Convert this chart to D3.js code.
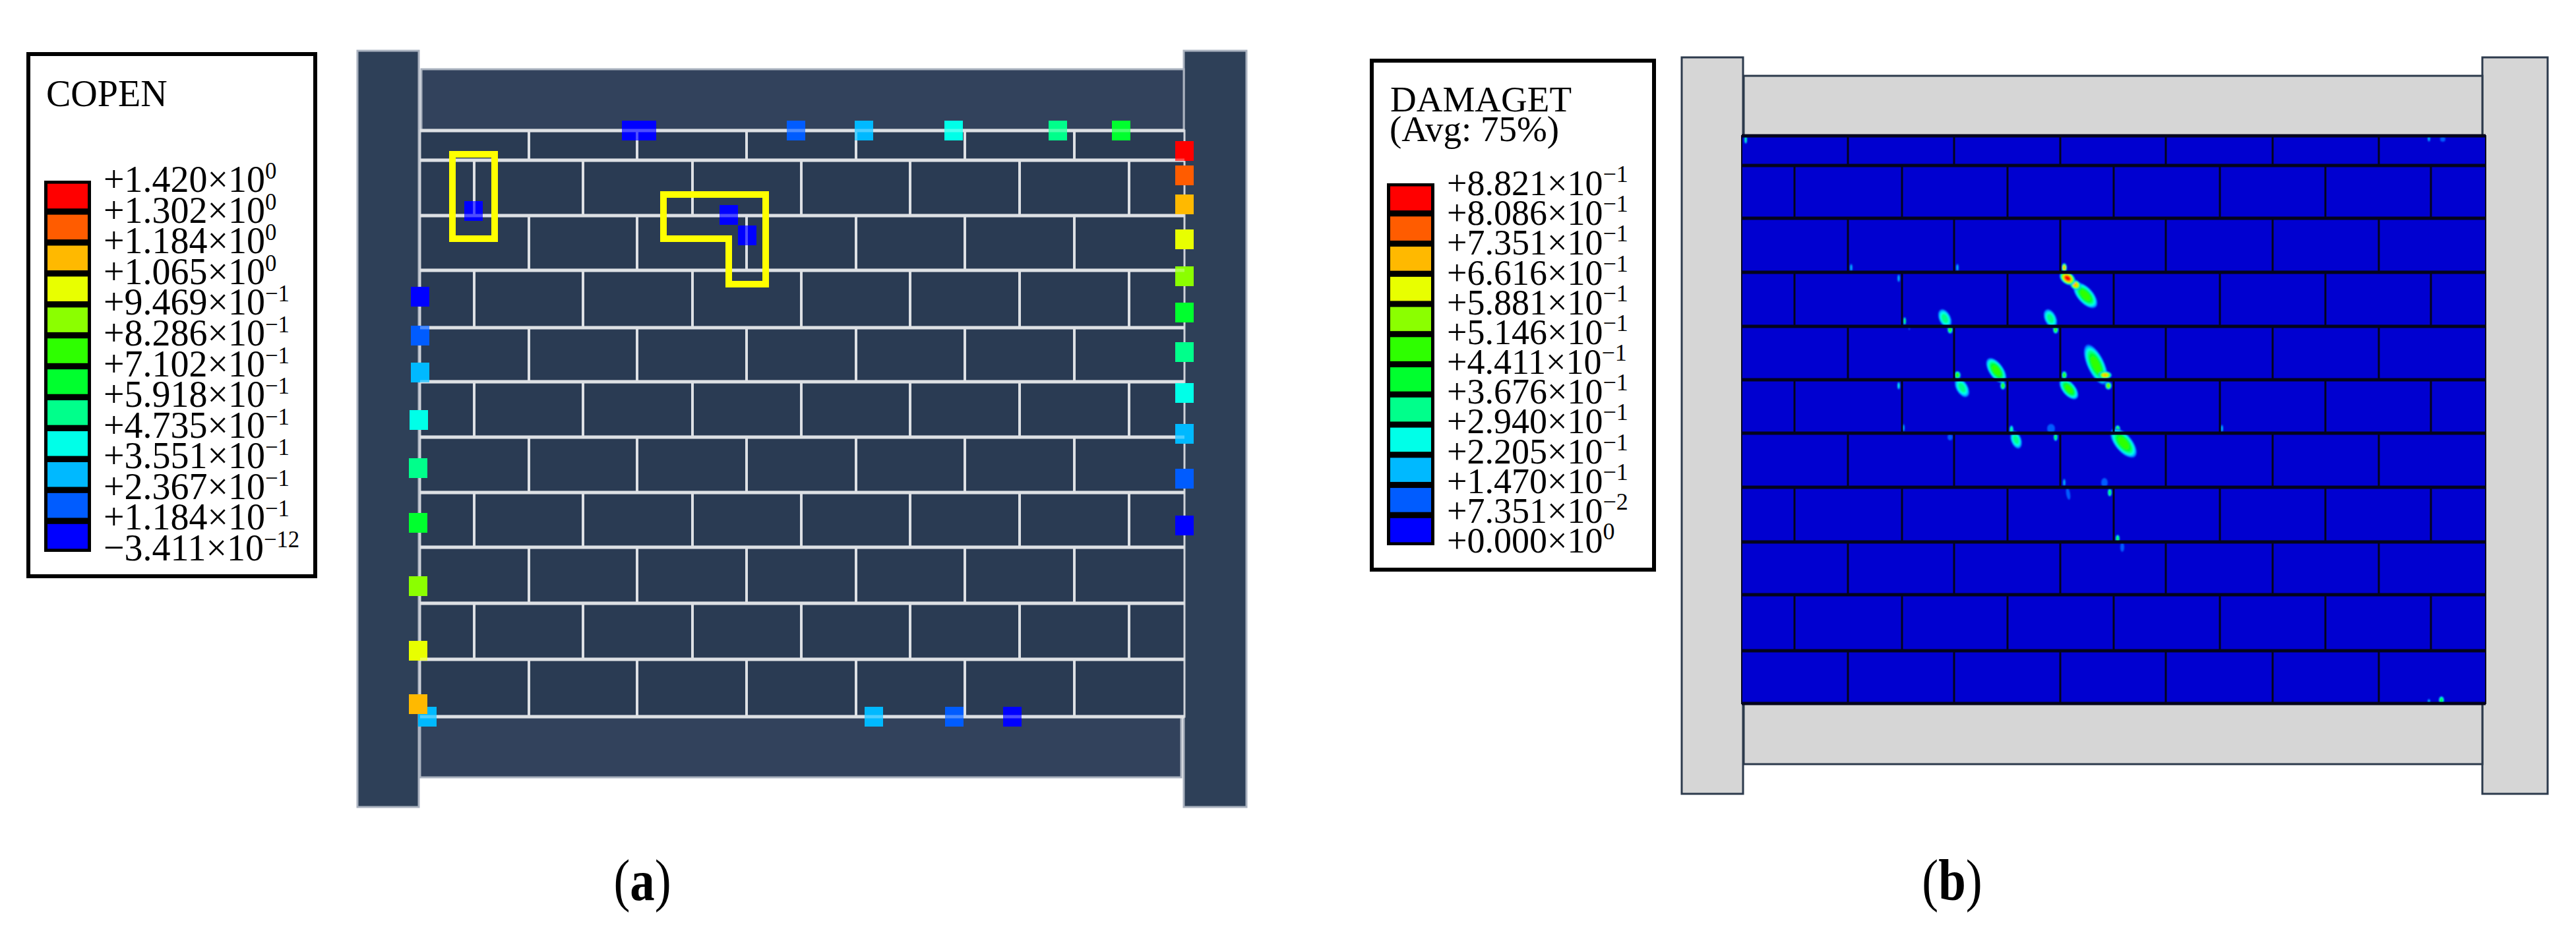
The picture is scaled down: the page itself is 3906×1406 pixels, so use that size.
<!DOCTYPE html>
<html lang="en">
  <head>
    <meta charset="UTF-8"/>
    <title>COPEN and DAMAGET contours</title>
    <script src="https://d3js.org/d3.v7.min.js"></script>
    <style>
      body { margin: 0; background: #fff; }
      text { font-family: 'Liberation Serif', serif; fill: #000; }
    </style>
  </head>
  <body>
    <script type="text/javascript">

      // contour legends, top to bottom
      const copenValues = ["+1.420", "+1.302", "+1.184", "+1.065", "+9.469", "+8.286", "+7.102",
                           "+5.918", "+4.735", "+3.551", "+2.367", "+1.184", "\u22123.411"]
      const copenPowers = ["0", "0", "0", "0", "\u22121", "\u22121", "\u22121",
                           "\u22121", "\u22121", "\u22121", "\u22121", "\u22121", "\u221212"]
      const damageValues = ["+8.821", "+8.086", "+7.351", "+6.616", "+5.881", "+5.146", "+4.411",
                            "+3.676", "+2.940", "+2.205", "+1.470", "+7.351", "+0.000"]
      const damagePowers = ["\u22121", "\u22121", "\u22121", "\u22121", "\u22121", "\u22121", "\u22121",
                            "\u22121", "\u22121", "\u22121", "\u22121", "\u22122", "0"]

      // contour band 0 (lowest) to 11 (highest)
      const bands = d3.range(12)
      const bandColors = ["#0000ff", "#005cff", "#00b9ff", "#00ffe8", "#00ff8b", "#00ff2e",
                          "#2eff00", "#8bff00", "#e8ff00", "#ffb900", "#ff5c00", "#ff0000"]
      const color = d3.scaleOrdinal(bands, bandColors)

      // panel a wall, units along and down the wall from the top beam
      const rowsA = [0, 45, 129, 212, 299, 381, 465, 549, 632, 717, 802, 889]
      const oddJointsA = [165, 329, 495, 661, 826, 992]
      const evenJointsA = [82, 247, 413, 578, 743, 909, 1075]

      // cohesive contact readings [along, down, band]
      const copenPoints = [
        [320, 0, 0], [344, 0, 0], [570, 0, 1], [673, 0, 2], [809, 0, 3], [967, 0, 4], [1063, 0, 5],
        [1159, 31, 11], [1159, 68, 10], [1159, 112, 9], [1159, 165, 8], [1159, 221, 7], [1159, 276, 5],
        [1159, 336, 4], [1159, 398, 3], [1159, 460, 2], [1159, 528, 1], [1159, 599, 0],
        [0, 252, 0], [0, 311, 1], [0, 367, 2], [-2, 439, 3], [-3, 512, 4], [-3, 595, 5],
        [-3, 691, 7], [-3, 789, 8], [11, 889, 2], [-3, 870, 9],
        [688, 889, 2], [810, 889, 1], [898, 889, 0],
        [81, 122, 0], [468, 128, 0], [496, 159, 0]
      ]

      // yellow call-outs
      const boxOne = [[49, 36], [113, 36], [113, 164], [49, 164]]
      const boxTwo = [[369, 97], [524, 97], [524, 233], [468, 233], [468, 164], [369, 164]]

      // panel b wall
      const rowsB = [0, 45, 125, 207, 289, 370, 451, 533, 616, 696, 781, 861]
      const oddJointsB = [161, 322, 483, 643, 805, 966]
      const evenJointsB = [80, 243, 403, 564, 725, 885, 1045]

      // damage patches [along, down, long radius, short radius, angle, peak band]
      const damagePatches = [
        [521, 242, 24, 12, 48, 6], [506, 226, 9, 7, 35, 9], [494, 216, 13, 9, 35, 11], [489, 200, 7, 4, 90, 9],
        [308, 277, 15, 9, 65, 4], [468, 277, 15, 9, 65, 4], [316, 294, 6, 4, 90, 6], [476, 294, 6, 4, 90, 6],
        [327, 363, 6, 5, 90, 6], [386, 356, 22, 11, 55, 6], [537, 347, 33, 13, 65, 6], [551, 363, 10, 6, 0, 9],
        [489, 363, 6, 4, 90, 6], [334, 382, 16, 9, 60, 4], [396, 379, 6, 4, 90, 6], [496, 384, 19, 10, 50, 6],
        [556, 379, 6, 5, 90, 7], [409, 446, 7, 3, 90, 4], [469, 444, 7, 6, 90, 1], [570, 445, 6, 4, 90, 6],
        [416, 461, 14, 8, 70, 4], [476, 457, 6, 3, 90, 5], [316, 457, 5, 4, 90, 1], [579, 466, 27, 13, 50, 6],
        [550, 526, 7, 5, 90, 1], [327, 200, 6, 2, 90, 2], [6, 6, 6, 2, 90, 4], [1042, 4, 5, 2, 90, 2],
        [1063, 5, 4, 4, 0, 1], [166, 200, 6, 2, 90, 2], [238, 216, 6, 2, 90, 2], [247, 281, 6, 2, 90, 5],
        [254, 292, 3, 1, 90, 1], [238, 379, 6, 2, 90, 3], [245, 443, 6, 2, 90, 2], [728, 444, 6, 2, 90, 2],
        [495, 543, 9, 3, 80, 1], [489, 526, 6, 2, 90, 2], [558, 541, 6, 3, 90, 5], [570, 611, 6, 3, 90, 5],
        [577, 624, 7, 3, 90, 1], [1061, 856, 6, 4, 90, 5], [1042, 858, 4, 2, 90, 2]
      ]

      const svg = d3.select("body").append("svg")
          .attr("width", 3906)
          .attr("height", 1406)

      const defs = svg.append("defs")
      defs.append("filter").attr("id", "soft")
          .append("feGaussianBlur").attr("stdDeviation", 0.8)
      defs.append("filter").attr("id", "softer")
          .append("feGaussianBlur").attr("stdDeviation", 0.7)

      // scales for each wall
      const xA = d3.scaleLinear().domain([0, 1159]).range([637, 1796])
      const yA = d3.scaleLinear().domain([0, 889]).range([198, 1087])
      const xB = d3.scaleLinear().domain([0, 1128]).range([2641, 3769])
      const yB = d3.scaleLinear().domain([0, 861]).range([206, 1067])

      const box = (g, x, y, x0, x1, y0, y1) => g.append("rect")
          .attr("x", x(x0))
          .attr("y", y(y0))
          .attr("width", x(x1) - x(x0))
          .attr("height", y(y1) - y(y0))

      const drawJoints = (g, x, y, rows, oddJoints, evenJoints, bedWidth, headWidth) => {
        g.selectAll("line.bed")
          .data(rows)
          .join("line")
          .attr("class", "bed")
          .attr("x1", x.range()[0])
          .attr("x2", x.range()[1])
          .attr("y1", d => y(d))
          .attr("y2", d => y(d))
          .attr("stroke-width", bedWidth)
        rows.slice(0, -1).forEach((row, i) => {
          const joints = i % 2 === 0 ? oddJoints : evenJoints
          g.selectAll(null)
            .data(joints)
            .join("line")
            .attr("x1", d => x(d))
            .attr("x2", d => x(d))
            .attr("y1", y(row))
            .attr("y2", y(rows[i + 1]))
            .attr("stroke-width", headWidth)
        })
      }

      const drawLegend = (cfg) => {
        const g = svg.append("g")
        g.append("rect")
          .attr("x", cfg.frame[0])
          .attr("y", cfg.frame[1])
          .attr("width", cfg.frame[2])
          .attr("height", cfg.frame[3])
          .attr("fill", "#fff")
          .attr("stroke", "#000")
          .attr("stroke-width", 6)

        cfg.title.forEach(t => g.append("text")
          .attr("x", t[0])
          .attr("y", t[1])
          .attr("font-size", cfg.titleSize)
          .text(t[2]))

        const cell = d3.scaleBand()
          .domain(bands.slice().reverse())
          .range(cfg.stripY)
          .paddingInner(0.2)
          .paddingOuter(0.1)

        g.append("rect")
          .attr("x", cfg.stripX[0])
          .attr("y", cfg.stripY[0])
          .attr("width", cfg.stripX[1] - cfg.stripX[0])
          .attr("height", cfg.stripY[1] - cfg.stripY[0])
          .attr("fill", "#000")

        g.selectAll("rect.cell")
          .data(bands)
          .join("rect")
          .attr("class", "cell")
          .attr("x", cfg.stripX[0] + 5)
          .attr("y", d => cell(d))
          .attr("width", cfg.stripX[1] - cfg.stripX[0] - 10)
          .attr("height", cell.bandwidth())
          .attr("fill", d => color(d))

        const labelY = d3.scalePoint()
          .domain(d3.range(cfg.values.length))
          .range(cfg.labelY)

        const labels = g.selectAll("text.tick")
          .data(cfg.values)
          .join("text")
          .attr("class", "tick")
          .attr("transform", (d, i) => `translate(${cfg.labelX},${labelY(i)}) scale(${cfg.squeeze},1)`)
          .attr("font-size", cfg.fontSize)
          .text(d => `${d}\u00d710`)

        labels.append("tspan")
          .attr("dy", -20)
          .attr("font-size", 36)
          .text((d, i) => cfg.powers[i])
      }

      drawLegend({
        frame: [43, 82, 435, 792],
        title: [[70, 161, "COPEN"]],
        titleSize: 56,
        stripX: [67, 138],
        stripY: [274, 837],
        labelX: 157,
        labelY: [291, 850],
        fontSize: 58,
        squeeze: 0.965,
        values: copenValues,
        powers: copenPowers
      })

      drawLegend({
        frame: [2080, 92, 428, 772],
        title: [[2108, 169, "DAMAGET"], [2107, 214, "(Avg: 75%)"]],
        titleSize: 55,
        stripX: [2103, 2175],
        stripY: [278, 827],
        labelX: 2194,
        labelY: [296, 838],
        fontSize: 54,
        squeeze: 1,
        values: damageValues,
        powers: damagePowers
      })

      // panel a
      const a = svg.append("g").attr("filter", "url(#softer)")
      a.append("g").attr("fill", "#2f4058").attr("stroke", "#aab2bf").attr("stroke-width", 3)
        .call(g => box(g, xA, yA, -95, -2, -121, 1026))
        .call(g => box(g, xA, yA, 1158, 1253, -121, 1026))
      a.append("g").attr("fill", "#31435b").attr("stroke", "#aab2bf").attr("stroke-width", 3)
        .call(g => box(g, xA, yA, 2, 1158, -93, 0))
        .call(g => box(g, xA, yA, 0, 1154, 889, 981))
      a.append("g").attr("fill", "#2a3a52").attr("stroke", "#cfd3d9").attr("stroke-width", 3)
        .call(g => box(g, xA, yA, 0, 1159, 0, 889))
      a.append("g").attr("stroke", "#cfd3d9")
        .call(g => drawJoints(g, xA, yA, rowsA, oddJointsA, evenJointsA, 5, 4))

      a.append("g").selectAll("rect")
        .data(copenPoints)
        .join("rect")
        .attr("x", d => xA(d[0]) - 14)
        .attr("y", d => yA(d[1]) - 15)
        .attr("width", 28)
        .attr("height", 30)
        .attr("fill", d => color(d[2]))

      // mortar shows through the markers
      a.append("g").attr("stroke", "#fff").attr("opacity", 0.3)
        .call(g => drawJoints(g, xA, yA, rowsA, oddJointsA, evenJointsA, 5, 4))

      const outline = d3.line().x(d => xA(d[0])).y(d => yA(d[1])).curve(d3.curveLinearClosed)
      a.append("g").selectAll("path")
        .data([boxOne, boxTwo])
        .join("path")
        .attr("d", outline)
        .attr("fill", "none")
        .attr("stroke", "#ffff00")
        .attr("stroke-width", 10)

      // panel b
      const b = svg.append("g")
      b.append("g").attr("fill", "#d6d6d6").attr("stroke", "#2c3a4c").attr("stroke-width", 3)
        .call(g => box(g, xB, yB, -91, 2, -119, 998))
        .call(g => box(g, xB, yB, 1123, 1222, -119, 998))
        .call(g => box(g, xB, yB, 3, 1123, -91, 0))
        .call(g => box(g, xB, yB, 3, 1123, 861, 953))
      b.append("g").attr("fill", "#0000d0").attr("stroke", "#04041c").attr("stroke-width", 2)
        .call(g => box(g, xB, yB, 0, 1128, 0, 861))

      const patches = b.append("g").attr("filter", "url(#soft)")
      damagePatches.forEach(p => {
        const inner = patches.append("g")
          .attr("transform", `translate(${xB(p[0])},${yB(p[1])}) rotate(${p[4]})`)
        inner.selectAll("ellipse")
          .data(d3.range(1, p[5] + 1))
          .join("ellipse")
          .attr("rx", k => p[2] * Math.sqrt(1 - (k - 1) / p[5]))
          .attr("ry", k => p[3] * Math.sqrt(1 - (k - 1) / p[5]))
          .attr("fill", k => color(k))
      })

      b.append("g").attr("stroke", "#04041c")
        .call(g => drawJoints(g, xB, yB, rowsB, oddJointsB, evenJointsB, 5, 3))

      // captions
      const captions = [["a", 974, 1365], ["b", 2960, 1365]]
      captions.forEach(c => {
        const t = svg.append("text")
          .attr("transform", `translate(${c[1]},${c[2]}) scale(0.85,1)`)
          .attr("font-size", 88)
          .attr("text-anchor", "middle")
          .text("(")
        t.append("tspan").attr("font-weight", "bold").text(c[0])
        t.append("tspan").text(")")
      })

    </script>
  </body>
</html>
